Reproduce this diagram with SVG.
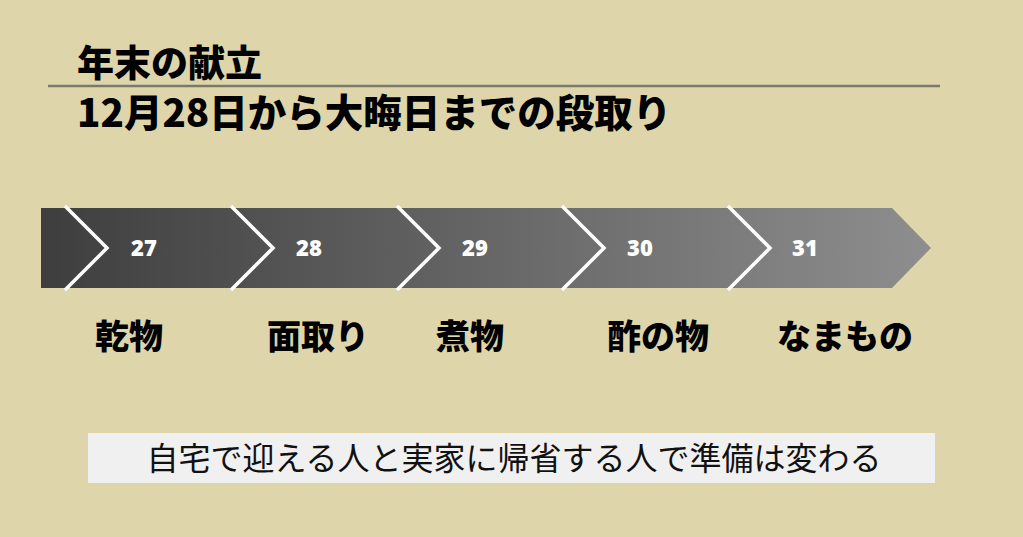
<svg xmlns="http://www.w3.org/2000/svg" width="1023" height="537" viewBox="0 0 1023 537">
  <defs>
    <linearGradient id="barGrad" x1="41" y1="0" x2="931" y2="0" gradientUnits="userSpaceOnUse">
      <stop offset="0" stop-color="#3e3e3e"/>
      <stop offset="1" stop-color="#8e8e8e"/>
    </linearGradient>
    <style>
      .jp { font-family: "Noto Sans CJK JP", "Noto Sans CJK SC", sans-serif; }
      .title { font-size: 37px; font-weight: 900; fill: #000; }
      .sub { font-size: 38.5px; font-weight: 900; fill: #000; }
      .label { font-size: 34px; font-weight: 900; fill: #000; }
      .num { font-family: "Open Sans", "Liberation Sans", sans-serif; font-size: 22px; font-weight: 800; fill: #fff; }
      .chev { fill: none; stroke: #fff; stroke-width: 3.5; stroke-linejoin: miter; }
      .note { font-size: 32px; font-weight: 400; fill: #111; }
    </style>
  </defs>
  <rect x="0" y="0" width="1023" height="537" fill="#ded6aa"/>

  <g id="header">
    <text class="jp title" x="77" y="77">年末の献立</text>
    <line x1="48" y1="86" x2="940" y2="86" stroke="#7a7a6c" stroke-width="2.5"/>
    <text class="jp sub" x="77" y="127">12月28日から大晦日までの段取り</text>
  </g>

  <g id="timeline-bar">
    <polygon points="41,208 892,208 931,248 892,288 41,288" fill="url(#barGrad)"/>
  </g>

  <g id="connectors">
    <polyline class="chev" points="65,206 107,248 65,290"/>
    <polyline class="chev" points="231,206 273,248 231,290"/>
    <polyline class="chev" points="397,206 439,248 397,290"/>
    <polyline class="chev" points="562,206 604,248 562,290"/>
    <polyline class="chev" points="728,206 770,248 728,290"/>
  </g>

  <g id="step-27">
    <text class="num" x="131" y="256">27</text>
    <text class="jp label" x="95" y="349">乾物</text>
  </g>
  <g id="step-28">
    <text class="num" x="296" y="256">28</text>
    <text class="jp label" x="267" y="349">面取り</text>
  </g>
  <g id="step-29">
    <text class="num" x="462" y="256">29</text>
    <text class="jp label" x="436" y="349">煮物</text>
  </g>
  <g id="step-30">
    <text class="num" x="627" y="256">30</text>
    <text class="jp label" x="607" y="349">酢の物</text>
  </g>
  <g id="step-31">
    <text class="num" x="792" y="256">31</text>
    <text class="jp label" x="777" y="349">なまもの</text>
  </g>

  <g id="note">
    <rect x="88" y="433" width="847" height="50" fill="#f0f0f0"/>
    <text class="jp note" x="514" y="470" text-anchor="middle">自宅で迎える人と実家に帰省する人で準備は変わる</text>
  </g>
</svg>
